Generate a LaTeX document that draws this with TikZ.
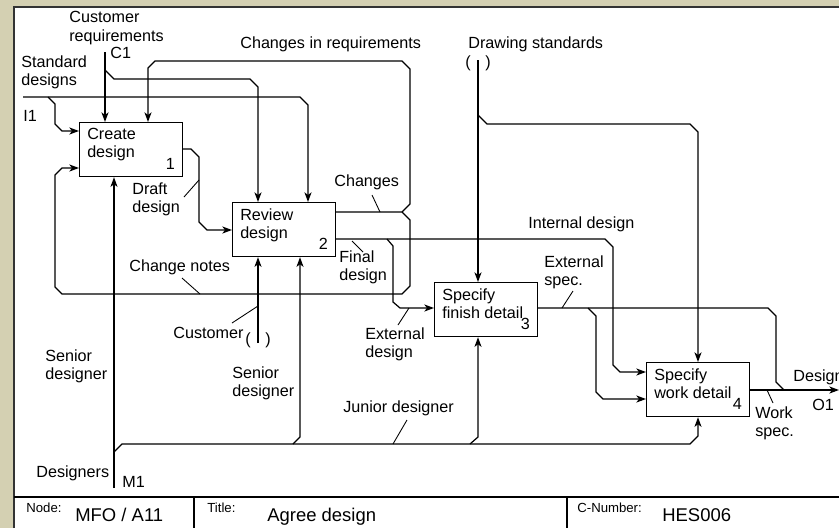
\documentclass[tikz,border=0pt]{standalone}
\usepackage{fontspec}
\setmainfont{Liberation Sans}
\usetikzlibrary{arrows.meta}
\definecolor{panel}{RGB}{212,208,178}
\tikzset{
	flow/.style={line width=0.7pt},
	arr/.style={flow,-{Stealth[length=5.5pt,width=4pt,inset=1.5pt]}},
	lead/.style={line width=0.5pt},
	sheet/.style={line width=1.1pt,color=black!80},
	fn/.style={draw,line width=0.7pt,fill=white,anchor=north west,minimum width=2.06cm,minimum height=1.08cm,inner sep=0pt},
	fntext/.style={anchor=north west,align=left,inner xsep=4.5pt,inner ysep=3.4pt},
	fnnum/.style={anchor=south east,inner xsep=4.5pt,inner ysep=4pt},
	lbl/.style={anchor=west,align=left,inner sep=0pt},
	foot/.style={anchor=base west,inner sep=0pt,font=\fontsize{10.5}{12}\selectfont},
	footkey/.style={anchor=base west,inner sep=0pt,font=\fontsize{7.5}{9}\selectfont},
}
\begin{document}
\begin{tikzpicture}[x=0.02cm,y=-0.02cm,font=\fontsize{9.2}{10.3}\selectfont]
		\useasboundingbox (0,0) rectangle (839,528);
		
		%sheet
		\fill[panel] (0,0) rectangle (839,528);
		\fill[white] (14,7) rectangle (839,528);
		\draw[sheet] (14,528) -- (14,7) -- (839,7);
		\draw[flow] (14,497) -- (839,497);
		\draw[flow] (194,497) -- (194,528);
		\draw[flow] (567,497) -- (567,528);
		
		%activities
		\node[fn] (create) at (79,122) {};
		\node[fntext] (createtext) at (create.north west) {Create\\design};
		\node[fnnum] (createnum) at (create.south east) {1};
		\node[fn] (review) at (232,202) {};
		\node[fntext] (reviewtext) at (review.north west) {Review\\design};
		\node[fnnum] (reviewnum) at (review.south east) {2};
		\node[fn] (finish) at (434,282) {};
		\node[fntext] (finishtext) at (finish.north west) {Specify\\finish detail};
		\node[fnnum] (finishnum) at (finish.south east) {3};
		\node[fn] (work) at (646,362) {};
		\node[fntext] (worktext) at (work.north west) {Specify\\work detail};
		\node[fnnum] (worknum) at (work.south east) {4};
		
		%controls
		\coordinate (c1) at (105,52);
		\draw[arr] (c1) -- (create.north -| c1);
		\draw[arr] (105,70) -- (114,79) -- (250,79) -- (258,87) -- (review.north -| 258,87);
		\coordinate (dstd) at (478,60);
		\draw[arr] (dstd) -- (finish.north -| dstd);
		\draw[arr] (478,115) -- (487,124) -- (690,124) -- (698,132) -- (work.north -| 698,132);
		
		%inputs
		\coordinate (i1) at (23,97);
		\draw[arr] (i1) -- (300,97) -- (308,105) -- (review.north -| 308,105);
		\draw[arr] (48,97) -- (55,104) -- (55,124) -- (62,131) -- (create.west |- 62,131);
		
		%outputs
		\draw[arr] (create.east |- 0,149) -- (191,149) -- (199,157) -- (199,222) -- (207,230) -- (review.west |- 207,230);
		\draw[arr] (review.east |- 0,212) -- (402,212) -- (410,204) -- (410,69) -- (402,61) -- (155,61) -- (148,68) -- (create.north -| 148,68);
		\draw[arr] (402,212) -- (410,220) -- (410,286) -- (402,294) -- (62,294) -- (55,287) -- (55,175) -- (62,168) -- (create.west |- 62,168);
		\draw[arr] (review.east |- 0,239) -- (605,239) -- (613,247) -- (613,365) -- (620,372) -- (work.west |- 620,372);
		\draw[arr] (387,239) -- (393,246) -- (393,302) -- (400,308) -- (finish.west |- 400,308);
		\draw[flow] (finish.east |- 0,308) -- (768,308) -- (776,316) -- (776,382) -- (784,390);
		\draw[arr] (588,308) -- (596,316) -- (596,392) -- (603,399) -- (work.west |- 603,399);
		\coordinate (o1) at (839,390);
		\draw[arr] (work.east |- o1) -- (o1);
		
		%mechanisms
		\coordinate (m1) at (114,488);
		\draw[arr] (m1) -- (create.south -| m1);
		\draw[arr] (114,452) -- (122,444) -- (690,444) -- (698,436) -- (work.south -| 698,436);
		\draw[arr] (293,444) -- (300,437) -- (review.south -| 300,437);
		\draw[arr] (470,444) -- (478,437) -- (finish.south -| 478,437);
		\coordinate (cust) at (258,343);
		\draw[arr] (cust) -- (review.south -| cust);
		
		%labels
		\node[lbl] (custreqlbl) at (69,28) {Customer\\requirements};
		\node[lbl] (c1lbl) at (110,53) {C1};
		\node[lbl] (stdlbl) at (21,72) {Standard\\designs};
		\node[lbl] (i1lbl) at (23,116) {I1};
		\node[lbl] (chreqlbl) at (240,44) {Changes in requirements};
		\node[lbl] (drawlbl) at (468,44) {Drawing standards};
		\node[lbl] (drawopen) at (465,63) {(};
		\node[lbl] (drawclose) at (485,63) {)};
		\node[lbl] (chlbl) at (334,182) {Changes};
		\node[lbl] (draftlbl) at (132,199) {Draft\\design};
		\node[lbl] (finallbl) at (339,267) {Final\\design};
		\node[lbl] (intlbl) at (528,224) {Internal design};
		\node[lbl] (extspeclbl) at (544,272) {External\\spec.};
		\node[lbl] (extdeslbl) at (365,344) {External\\design};
		\node[lbl] (notelbl) at (129,267) {Change notes};
		\node[lbl] (custlbl) at (173,333) {Customer};
		\node[lbl] (custopen) at (245,340) {(};
		\node[lbl] (custclose) at (265,340) {)};
		\node[lbl] (senioronelbl) at (45,366) {Senior\\designer};
		\node[lbl] (seniortwolbl) at (232,383) {Senior\\designer};
		\node[lbl] (juniorlbl) at (343,408) {Junior designer};
		\node[lbl] (designerslbl) at (36,473) {Designers};
		\node[lbl] (m1lbl) at (122,482) {M1};
		\node[lbl] (designlbl) at (793,377) {Design};
		\node[lbl] (o1lbl) at (812,405) {O1};
		\node[lbl] (workspeclbl) at (755,423) {Work\\spec.};
		
		%leaders
		\draw[lead] (372,195) -- (380,212);
		\draw[lead] (184,197) -- (199,180);
		\draw[lead] (352,241) -- (363,252);
		\draw[lead] (398,325) -- (409,308);
		\draw[lead] (182,278) -- (200,294);
		\draw[lead] (232,323) -- (258,306);
		\draw[lead] (393,444) -- (407,420);
		\draw[lead] (562,308) -- (573,291);
		\draw[lead] (767,390) -- (773,403);
		
		%footer
		\node[footkey] (nodekey) at (26,512) {Node:};
		\node[foot] (nodeval) at (75,521) {MFO / A11};
		\node[footkey] (titlekey) at (207,512) {Title:};
		\node[foot] (titleval) at (267,521) {Agree design};
		\node[footkey] (numkey) at (577,512) {C-Number:};
		\node[foot] (numval) at (662,521) {HES006};
\end{tikzpicture}
\end{document}
